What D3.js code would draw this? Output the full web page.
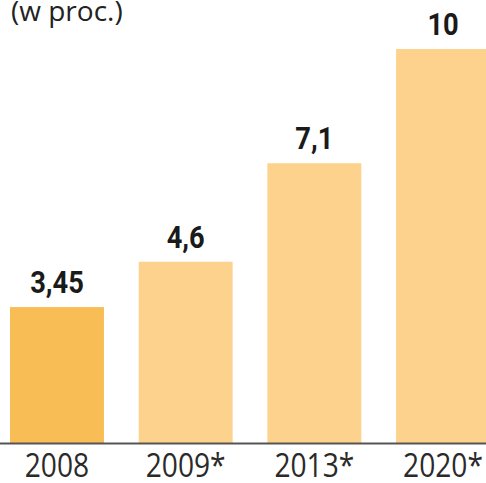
<!DOCTYPE html>
<html>
<head>
<meta charset="utf-8">
<script src="https://cdn.jsdelivr.net/npm/d3@7"></script>
<style>
  html, body { margin: 0; padding: 0; background: #fff; overflow: hidden; }
  svg { display: block; }
</style>
</head>
<body>
<svg id="chart" width="486" height="483"></svg>
<script>
// Data
const categories = ["2008", "2009*", "2013*", "2020*"];
const values = [3.45, 4.6, 7.1, 10];
const valueLabels = ["3,45", "4,6", "7,1", "10"];
const unitLabel = "(w proc.)";

const W = 486, H = 483;
const svg = d3.select("#chart");

const x = d3.scaleBand()
  .domain(categories)
  .range([10, 490])
  .paddingInner(0.27)
  .paddingOuter(0);

const y = d3.scaleLinear()
  .domain([0, 10])
  .range([443, 49]);

const fills = ["#F9BD55", "#FDD28D", "#FDD28D", "#FDD28D"];
const squeeze = 0.88; // narrow the glyphs horizontally

// Bars
svg.append("g")
  .selectAll("rect")
  .data(values)
  .join("rect")
  .attr("x", (d, i) => x(categories[i]))
  .attr("y", d => y(d))
  .attr("width", x.bandwidth())
  .attr("height", d => y(0) - y(d))
  .attr("fill", (d, i) => fills[i]);

// Value labels above the bars
svg.append("g")
  .selectAll("text")
  .data(values)
  .join("text")
  .attr("transform", (d, i) =>
    `translate(${x(categories[i]) + x.bandwidth() / 2},${y(d) - 14}) scale(${squeeze},1)`)
  .attr("text-anchor", "middle")
  .attr("font-family", "Roboto, sans-serif")
  .attr("font-weight", "bold")
  .attr("font-size", 31)
  .attr("fill", "#1a1a1a")
  .text((d, i) => valueLabels[i]);

// Baseline axis with category labels
const axis = svg.append("g")
  .attr("transform", `translate(0,${y(0)})`)
  .call(d3.axisBottom(x).tickSize(0).tickPadding(0));
axis.select(".domain")
  .attr("d", `M0,0.5H${W}`)
  .attr("stroke", "#555")
  .attr("stroke-width", 2);
axis.selectAll(".tick text")
  .attr("y", null)
  .attr("dy", null)
  .attr("transform", `translate(0,34) scale(${squeeze},1)`)
  .attr("font-family", "'Open Sans', sans-serif")
  .attr("font-size", 32)
  .attr("fill", "#2a2a2a");

// Unit caption
svg.append("text")
  .attr("x", 11)
  .attr("y", 21)
  .attr("font-family", "'Open Sans', sans-serif")
  .attr("font-size", 28)
  .attr("fill", "#222")
  .text(unitLabel);
</script>
</body>
</html>
